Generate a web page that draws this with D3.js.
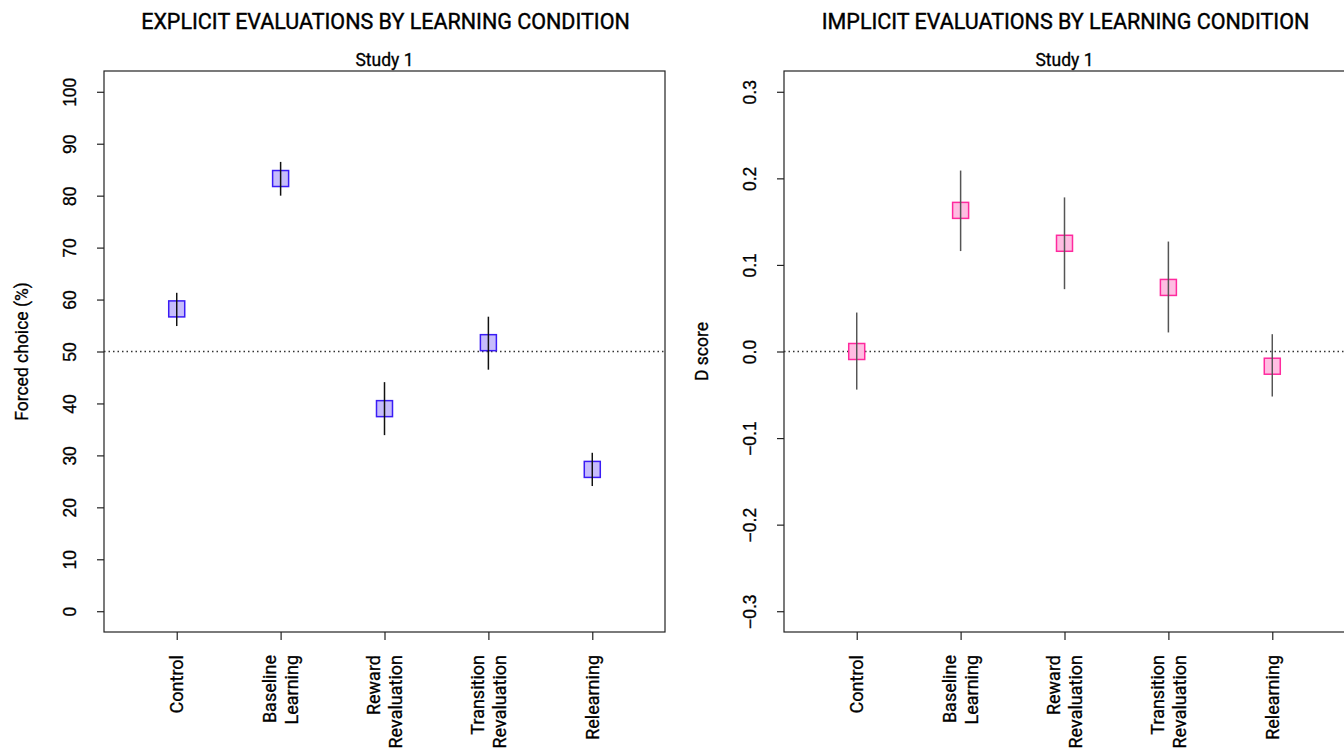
<!DOCTYPE html>
<html>
<head>
<meta charset="utf-8">
<script src="https://cdn.jsdelivr.net/npm/d3@7"></script>
<style>
  body { margin: 0; background: #fff; }
  svg { display: block; font-family: Roboto, "DejaVu Sans Condensed", sans-serif; }
</style>
</head>
<body>
<svg id="chart" width="1344" height="752"></svg>
<script>
const categories = [["Control"], ["Baseline", "Learning"], ["Reward", "Revaluation"], ["Transition", "Revaluation"], ["Relearning"]];

const explicitMean = [58.2, 83.3, 39.0, 51.7, 27.3];
const explicitLow  = [54.9, 80.0, 33.9, 46.5, 24.1];
const explicitHigh = [61.3, 86.5, 44.1, 56.7, 30.5];
const explicitTicks = [0, 10, 20, 30, 40, 50, 60, 70, 80, 90, 100];

const implicitMean = [0.000, 0.163, 0.125, 0.074, -0.017];
const implicitLow  = [-0.044, 0.116, 0.072, 0.022, -0.052];
const implicitHigh = [0.045, 0.209, 0.178, 0.127, 0.020];
const implicitTicks = [-0.3, -0.2, -0.1, 0.0, 0.1, 0.2, 0.3];

const svg = d3.select("#chart");

function panel(opts) {
  const g = svg.append("g");
  const left = opts.left, top = 71, w = 561, h = 561;
  const x = d3.scaleLinear().domain([0.3, 5.7]).range([left, left + w]);
  const y = d3.scaleLinear().domain(opts.ylim).range([top + h, top]);

  g.append("text").attr("x", left + w / 2 + 1).attr("y", 29)
    .attr("text-anchor", "middle").attr("font-size", 21.5)
    .attr("stroke", "#000").attr("stroke-width", 0.4)
    .text(opts.title);
  g.append("text").attr("x", left + w / 2).attr("y", 66)
    .attr("text-anchor", "middle").attr("font-size", 17.5)
    .attr("stroke", "#000").attr("stroke-width", 0.3)
    .text("Study 1");

  g.append("rect").attr("x", left).attr("y", top).attr("width", w).attr("height", h)
    .attr("fill", "none").attr("stroke", "#222").attr("stroke-width", 1.2);

  const yAxis = d3.axisLeft(y).tickValues(opts.ticks).tickSize(7).tickPadding(0)
    .tickFormat(opts.fmt);
  const ya = g.append("g").attr("transform", `translate(${left},0)`).call(yAxis);
  ya.select(".domain").remove();
  ya.selectAll("line").attr("stroke", "#222").attr("stroke-width", 1.2);
  ya.selectAll("text").remove();
  ya.selectAll(".tick").append("text")
    .attr("transform", "translate(-34,0) rotate(-90)")
    .attr("text-anchor", "middle").attr("dy", "0.35em")
    .attr("font-size", 17.5).attr("fill", "#000")
    .attr("stroke", "#000").attr("stroke-width", 0.3)
    .text(d => opts.fmt(d));

  g.append("text").attr("transform", `translate(${left - 82},${top + h / 2}) rotate(-90)`)
    .attr("text-anchor", "middle").attr("dy", "0.35em")
    .attr("font-size", 17.5)
    .attr("stroke", "#000").attr("stroke-width", 0.3)
    .text(opts.ylab);

  const xAxis = d3.axisBottom(x).tickValues([1, 2, 3, 4, 5]).tickSize(8).tickFormat("");
  const xa = g.append("g").attr("transform", `translate(0,${top + h})`).call(xAxis);
  xa.select(".domain").remove();
  xa.selectAll("line").attr("stroke", "#222").attr("stroke-width", 1.2);
  categories.forEach((lines, i) => {
    const cx = x(i + 1);
    const n = lines.length;
    lines.forEach((t, j) => {
      const off = (j - (n - 1) / 2) * 22;
      g.append("text")
        .attr("transform", `translate(${cx + off},${top + h + 23}) rotate(-90)`)
        .attr("text-anchor", "end").attr("dy", "0.35em")
        .attr("font-size", 18)
        .attr("stroke", "#000").attr("stroke-width", 0.3)
        .text(t);
    });
  });

  g.append("line").attr("x1", left).attr("x2", left + w)
    .attr("y1", y(opts.ref)).attr("y2", y(opts.ref))
    .attr("stroke", "#333").attr("stroke-width", 1.3).attr("stroke-dasharray", "1.5,3");

  const s = 16;
  opts.mean.forEach((m, i) => {
    g.append("rect").attr("x", x(i + 1) - s / 2).attr("y", y(m) - s / 2)
      .attr("width", s).attr("height", s)
      .attr("fill", opts.fill).attr("stroke", opts.stroke).attr("stroke-width", 1.5);
  });
  opts.mean.forEach((m, i) => {
    g.append("line").attr("x1", x(i + 1)).attr("x2", x(i + 1))
      .attr("y1", y(opts.low[i])).attr("y2", y(opts.high[i]))
      .attr("stroke", opts.err).attr("stroke-width", 1.5);
  });
}

panel({
  left: 104, title: "EXPLICIT EVALUATIONS BY LEARNING CONDITION",
  ylim: [-4, 104], ticks: explicitTicks, fmt: d3.format("d"),
  ylab: "Forced choice (%)", ref: 50,
  mean: explicitMean, low: explicitLow, high: explicitHigh,
  fill: "#c6bcfc", stroke: "#3a1cf5", err: "#111"
});
panel({
  left: 784, title: "IMPLICIT EVALUATIONS BY LEARNING CONDITION",
  ylim: [-0.324, 0.324], ticks: implicitTicks, fmt: d3.format(".1f"),
  ylab: "D score", ref: 0,
  mean: implicitMean, low: implicitLow, high: implicitHigh,
  fill: "#ffbde2", stroke: "#ff2a9e", err: "#555"
});
</script>
</body>
</html>
